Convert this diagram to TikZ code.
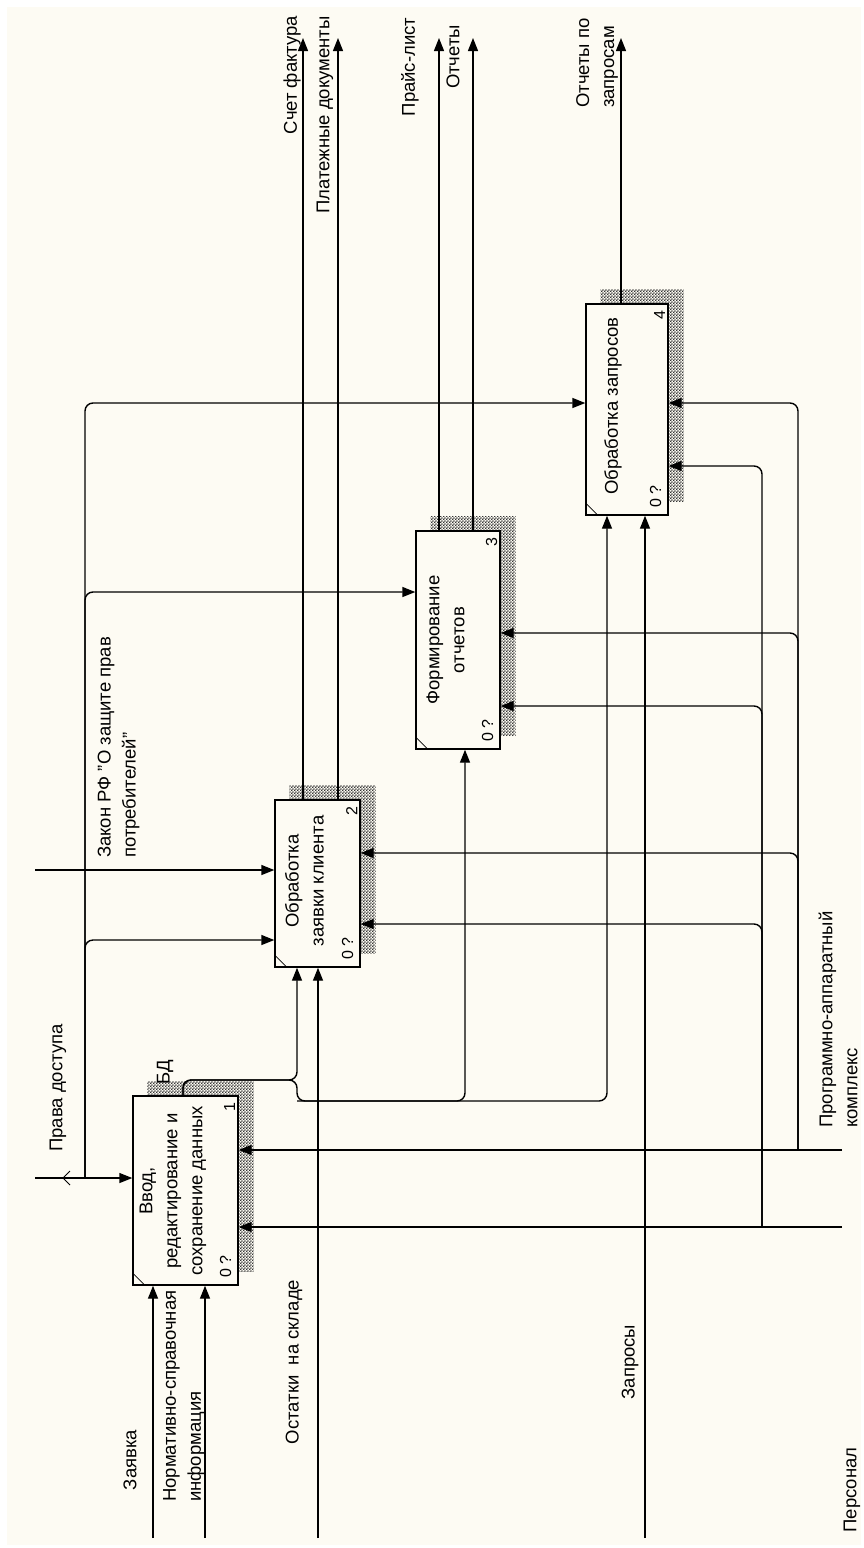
\documentclass[tikz,border=0pt]{standalone}
\usepackage{fontspec}
\setmainfont{Liberation Sans}
\usetikzlibrary{arrows.meta,patterns,backgrounds}
\definecolor{paper}{RGB}{253,251,243}
% fine checkered hatching used for the IDEF0 box shadows
\pgfdeclarepatternformonly{idefdots}{\pgfqpoint{0pt}{0pt}}{\pgfqpoint{3.2pt}{3.2pt}}{\pgfqpoint{3.2pt}{3.2pt}}{%
  \pgfpathrectangle{\pgfqpoint{0pt}{0pt}}{\pgfqpoint{1.6pt}{1.6pt}}%
  \pgfpathrectangle{\pgfqpoint{1.6pt}{1.6pt}}{\pgfqpoint{1.6pt}{1.6pt}}%
  \pgfusepath{fill}}
\begin{document}
\begin{tikzpicture}[x=1pt,y=-1pt,
  every node/.style={font=\fontsize{18.5}{25}\selectfont, inner sep=0pt},
  fnbox/.style={draw, line width=1.4pt, fill=paper},
  lbl/.style={rotate=90},
  lbll/.style={rotate=90, align=left, anchor=west},
  small/.style={rotate=90, font=\fontsize{16}{18}\selectfont},
  arr/.style={draw, line width=1.4pt, -{Triangle[length=13pt,width=10pt]}},
  elbow/.style={rounded corners=8pt},
  hatch/.style={pattern=idefdots, pattern color=black!80}]

\useasboundingbox (0,0) rectangle (864,1548);
\begin{scope}[on background layer]
  \fill[white] (0,0) rectangle (864,1548);
  \fill[paper] (7,7) rectangle (861,1545);
\end{scope}

% ---------- function boxes ----------
\node[fnbox, minimum width=105pt, minimum height=189pt] (b1) at (185.5,1190.5) {};
\node[fnbox, minimum width=85pt,  minimum height=167pt] (b2) at (317.5,883.5) {};
\node[fnbox, minimum width=84pt,  minimum height=218pt] (b3) at (458,640) {};
\node[fnbox, minimum width=82pt,  minimum height=211pt] (b4) at (627,409.5) {};

\begin{scope}[on background layer]
  \foreach \b in {b1,b2,b3,b4}
    \fill[hatch] ([shift={(15,-14)}]\b.south west) rectangle ([shift={(15,-14)}]\b.north east);
\end{scope}

\foreach \b in {b1,b2,b3,b4}
  \draw[line width=0.8pt] ([yshift=13pt]\b.south west) -- ([xshift=13pt]\b.south west);

\node[lbl, align=center] (t1) at (173,1191) {Ввод,\\редактирование и\\сохранение данных};
\node[lbl, align=center] (t2) at (304.5,881) {Обработка\\заявки клиента};
\node[lbl, align=center] (t3) at (445.5,640) {Формирование\\отчетов};
\node[lbl] (t4) at (613,406) {Обработка запросов};

\foreach \b/\n in {b1/1,b2/2,b3/3,b4/4}{
  \node[small] (z\n) at ([shift={(-13,-19)}]\b.south east) {0 ?};
  \node[small] (n\n) at ([shift={(-9,12)}]\b.north east) {\n};
}

% ---------- free ends and bend points ----------
\coordinate (zayavka) at (153,1538);
\coordinate (nsi) at (205,1538);
\coordinate (ost) at (318,1538);
\coordinate (zapr) at (645,1538);
\coordinate (prava) at (35,1178);
\coordinate (zakon) at (35,870);
\coordinate (pak) at (842,1150);
\coordinate (pers) at (842,1227);

\coordinate (o21) at (303,38);
\coordinate (o22) at (338,38);
\coordinate (o31) at (439,38);
\coordinate (o32) at (473,38);
\coordinate (o41) at (621,38);

\coordinate (pj) at (85,1178);
\coordinate (cb4) at (85,403);
\coordinate (cb3) at (85,592);
\coordinate (cb2) at (85,940);

\coordinate (bdx) at (183,1080);
\coordinate (bdy) at (297,1080);
\coordinate (bdz) at (297,1101);
\coordinate (bdv) at (465,1101);
\coordinate (bdw) at (607,1101);

\coordinate (pakj) at (798,1150);
\coordinate (m42) at (798,403);
\coordinate (m32) at (798,633);
\coordinate (m22) at (798,853);
\coordinate (persj) at (762,1227);
\coordinate (m41) at (762,466);
\coordinate (m31) at (762,706);
\coordinate (m21) at (762,924);

% ---------- inputs ----------
\draw[arr] (zayavka) -- (zayavka |- b1.south);
\draw[arr] (nsi) -- (nsi |- b1.south);
\draw[arr] (ost) -- (ost |- b2.south);
\draw[arr] (zapr) -- (zapr |- b4.south);

% ---------- controls ----------
\draw[arr] (prava) -- (prava -| b1.west);
\draw[line width=0.8pt] (70,1171) -- (63,1178) -- (70,1185);
\draw[arr, elbow] (pj) -- (cb4) -- (cb4 -| b4.west);
\draw[arr, elbow] (pj) -- (cb3) -- (cb3 -| b3.west);
\draw[arr, elbow] (pj) -- (cb2) -- (cb2 -| b2.west);
\draw[arr] (zakon) -- (zakon -| b2.west);

% ---------- outputs ----------
\draw[arr] (o21 |- b2.north) -- (o21);
\draw[arr] (o22 |- b2.north) -- (o22);
\draw[arr] (o31 |- b3.north) -- (o31);
\draw[arr] (o32 |- b3.north) -- (o32);
\draw[arr] (o41 |- b4.north) -- (o41);

% database output of box 1 feeding boxes 2, 3, 4
\draw[arr, elbow] (bdx |- b1.north) -- (bdx) -- (bdy) -- (bdy |- b2.south);
\draw[arr, elbow] (bdx |- b1.north) -- (bdx) -- (bdy) -- (bdz) -- (bdw) -- (bdw |- b4.south);
\draw[arr, elbow] (bdz) -- (bdv) -- (bdv |- b3.south);

% ---------- mechanisms ----------
\draw[arr] (pak) -- (pak -| b1.east);
\draw[arr] (pers) -- (pers -| b1.east);
\draw[arr, elbow] (pakj) -- (m42) -- (m42 -| b4.east);
\draw[arr, elbow] (pakj) -- (m32) -- (m32 -| b3.east);
\draw[arr, elbow] (pakj) -- (m22) -- (m22 -| b2.east);
\draw[arr, elbow] (persj) -- (m41) -- (m41 -| b4.east);
\draw[arr, elbow] (persj) -- (m31) -- (m31 -| b3.east);
\draw[arr, elbow] (persj) -- (m21) -- (m21 -| b2.east);

% ---------- arrow labels ----------
\node[lbl] (lzay) at (130,1460) {Заявка};
\node[lbll] (lnsi) at (184,1502) {Нормативно-справочная\\информация};
\node[lbl] (lost) at (294,1362) {Остатки~~на складе};
\node[lbl] (lzapr) at (630,1362) {Запросы};
\node[lbl] (lpers) at (852,1490) {Персонал};
\node[lbll] (lpak) at (838,1128) {Программно-аппаратный\\комплекс};
\node[lbl] (lprava) at (58,1088) {Права доступа};
\node[lbll] (lzakon) at (118.5,858) {Закон РФ "О защите прав\\потребителей"};
\node[lbl] (lbd) at (165,1072) {БД};
\node[lbl] (lsf) at (292,75) {Счет фактура};
\node[lbl] (lpd) at (325,115) {Платежные документы};
\node[lbl] (lpl) at (410,67) {Прайс-лист};
\node[lbl] (lot) at (453,57) {Отчеты};
\node[lbll] (loz) at (597,108) {Отчеты по\\запросам};

\end{tikzpicture}
\end{document}
